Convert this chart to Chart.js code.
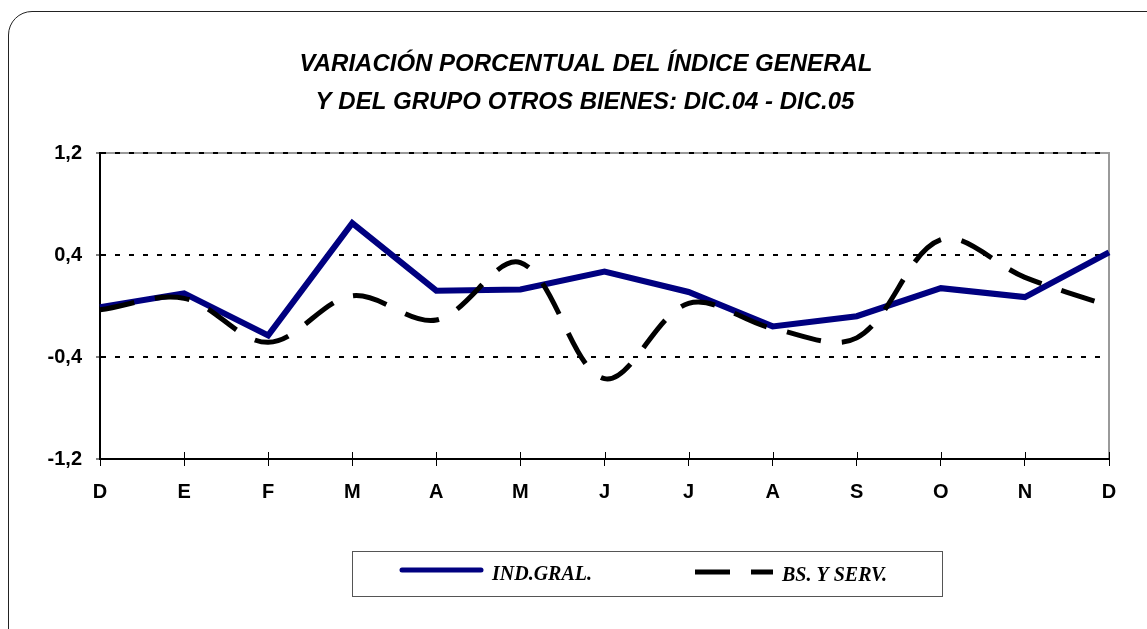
<!DOCTYPE html>
<html>
<head>
<meta charset="utf-8">
<script src="https://cdn.jsdelivr.net/npm/chart.js@4.4.1/dist/chart.umd.min.js"></script>
<style>
    html, body { margin: 0; padding: 0; background: #fff; overflow: hidden; }
    .wrap { position: relative; width: 1147px; height: 629px; }
    .frame {
        position: absolute; left: 8px; top: 11px; width: 1200px; height: 700px;
        border: 1.5px solid #222; border-radius: 24px; box-sizing: border-box;
    }
    #chart { position: absolute; left: 0; top: 0; }
</style>
</head>
<body>
<div class="wrap">
    <div class="frame"></div>
    <canvas id="chart" width="1147" height="629"></canvas>
</div>
<script>
// datos
const titleLines = ['VARIACIÓN PORCENTUAL DEL ÍNDICE GENERAL', 'Y DEL GRUPO OTROS BIENES: DIC.04 - DIC.05'];
const months = ['D', 'E', 'F', 'M', 'A', 'M', 'J', 'J', 'A', 'S', 'O', 'N', 'D'];
const indGral = [-0.01, 0.10, -0.23, 0.65, 0.12, 0.13, 0.27, 0.11, -0.16, -0.08, 0.14, 0.07, 0.42];
const bsServ = [-0.03, 0.06, -0.285, 0.08, -0.11, 0.34, -0.57, 0.02, -0.175, -0.25, 0.52, 0.225, 0.0];
const yTicks = [-1.2, -0.4, 0.4, 1.2];
const yTickLabels = ['-1,2', '-0,4', '0,4', '1,2'];

// marco del área de trazado, marcas de los ejes, título y leyenda
const decoPlugin = {
    id: 'deco',
    beforeDraw(chart) {
        const { ctx, chartArea: a } = chart;
        ctx.save();
        ctx.strokeStyle = '#9a9a9a';
        ctx.lineWidth = 2;
        ctx.beginPath();
        ctx.moveTo(a.left, a.top);
        ctx.lineTo(a.right, a.top);
        ctx.lineTo(a.right, a.bottom);
        ctx.stroke();
        ctx.restore();
    },
    afterDraw(chart) {
        const { ctx, chartArea: a } = chart;
        const xs = chart.scales.x, ys = chart.scales.y;
        ctx.save();
        // marcas que cruzan los ejes
        ctx.strokeStyle = '#000';
        ctx.lineWidth = 1;
        ctx.beginPath();
        months.forEach((m, i) => {
            const px = Math.round(xs.getPixelForValue(i)) + 0.5;
            ctx.moveTo(px, a.bottom - 7);
            ctx.lineTo(px, a.bottom);
        });
        yTicks.forEach(v => {
            const py = Math.round(ys.getPixelForValue(v)) + 0.5;
            ctx.moveTo(a.left, py);
            ctx.lineTo(a.left + 4, py);
        });
        ctx.stroke();

        // título
        ctx.fillStyle = '#000';
        ctx.textAlign = 'center';
        ctx.textBaseline = 'alphabetic';
        ctx.font = 'italic bold 24px "Liberation Sans", Arial, sans-serif';
        ctx.fillText(titleLines[0], 586, 71);
        ctx.fillText(titleLines[1], 585, 109);

        // leyenda
        ctx.strokeStyle = '#555';
        ctx.lineWidth = 1;
        ctx.strokeRect(352.5, 551.5, 590, 45);
        const ds = chart.data.datasets;
        ctx.font = 'italic bold 20px "Liberation Serif", "Times New Roman", serif';
        ctx.textAlign = 'left';

        ctx.strokeStyle = ds[0].borderColor;
        ctx.lineWidth = 5;
        ctx.lineCap = 'round';
        ctx.beginPath();
        ctx.moveTo(402, 570);
        ctx.lineTo(481, 570);
        ctx.stroke();
        ctx.fillText(ds[0].label, 492, 580);

        ctx.strokeStyle = ds[1].borderColor;
        ctx.lineCap = 'butt';
        ctx.setLineDash(ds[1].borderDash);
        ctx.beginPath();
        ctx.moveTo(695, 572);
        ctx.lineTo(773, 572);
        ctx.stroke();
        ctx.setLineDash([]);
        ctx.fillText(ds[1].label, 782, 581);
        ctx.restore();
    }
};

new Chart(document.getElementById('chart'), {
    type: 'line',
    data: {
        labels: months,
        datasets: [
            {
                label: 'IND.GRAL.',
                data: indGral,
                borderColor: '#000080',
                borderWidth: 6,
                borderJoinStyle: 'miter',
                tension: 0,
                pointRadius: 0,
                order: 2
            },
            {
                label: 'BS. Y SERV.',
                data: bsServ,
                borderColor: '#000000',
                borderWidth: 5,
                borderDash: [35, 21],
                tension: 0.35,
                pointRadius: 0,
                order: 1
            }
        ]
    },
    options: {
        responsive: false,
        animation: false,
        devicePixelRatio: 1,
        layout: { padding: { top: 153, left: 0, right: 38, bottom: 120 } },
        plugins: {
            legend: { display: false },
            title: { display: false },
            tooltip: { enabled: false }
        },
        scales: {
            x: {
                type: 'category',
                offset: false,
                afterFit(scale) { scale.height = 50; },
                grid: {
                    drawOnChartArea: false,
                    drawTicks: true,
                    tickLength: 7,
                    tickColor: '#000',
                    tickWidth: 1
                },
                border: { display: true, color: '#000', width: 2 },
                ticks: {
                    padding: 14,
                    color: '#000',
                    maxRotation: 0,
                    autoSkip: false,
                    font: { family: '"Liberation Sans", Arial, sans-serif', size: 20, weight: 'bold' }
                }
            },
            y: {
                min: -1.2,
                max: 1.2,
                afterFit(scale) { scale.width = 100; },
                afterBuildTicks(scale) { scale.ticks = yTicks.map(v => ({ value: v })); },
                grid: {
                    drawOnChartArea: true,
                    color: ctx => ctx.tick && ctx.tick.value === -1.2 ? 'rgba(0,0,0,0)' : '#000',
                    lineWidth: 2,
                    drawTicks: true,
                    tickLength: 4,
                    tickColor: '#000',
                    tickWidth: 1,
                    tickBorderDash: []
                },
                border: { display: true, color: '#000', width: 2, dash: [5, 9] },
                ticks: {
                    padding: 14,
                    color: '#000',
                    callback: (value, index) => yTickLabels[index],
                    font: { family: '"Liberation Sans", Arial, sans-serif', size: 20, weight: 'bold' }
                }
            }
        }
    },
    plugins: [decoPlugin]
});
</script>
</body>
</html>
